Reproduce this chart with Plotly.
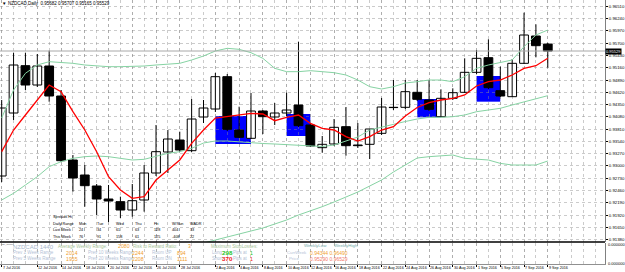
import plotly.graph_objects as go

# ---------------- data ----------------
open_p = [0.92779, 0.94165, 0.95206, 0.94781, 0.95199, 0.94539, 0.93131, 0.92801, 0.92559, 0.92273,
          0.92214, 0.92031, 0.92251, 0.92845, 0.93307, 0.93571, 0.93336, 0.94077, 0.94253, 0.94964,
          0.93791, 0.93608, 0.94209, 0.94077, 0.94165, 0.94341, 0.93901, 0.93402, 0.93483, 0.93864,
          0.93461, 0.93476, 0.93718, 0.94290, 0.94290, 0.94620, 0.94451, 0.94084, 0.94488, 0.94620,
          0.95060, 0.95382, 0.94656, 0.94524, 0.95258, 0.95859, 0.95682]
high_p = [0.94451, 0.95492, 0.95492, 0.95463, 0.95536, 0.94671, 0.93241, 0.93021, 0.92603, 0.92581,
          0.92324, 0.92603, 0.93021, 0.93901, 0.93791, 0.93754, 0.94473, 0.94451, 0.95045, 0.95023,
          0.94304, 0.94605, 0.94231, 0.94385, 0.94612, 0.95734, 0.93923, 0.93659, 0.94033, 0.94297,
          0.93945, 0.93813, 0.94495, 0.94891, 0.94891, 0.94891, 0.94891, 0.94686, 0.94708, 0.95368,
          0.95551, 0.95786, 0.95184, 0.95353, 0.96372, 0.96116, 0.95707]
low_p = [0.92647, 0.94011, 0.94671, 0.94737, 0.94413, 0.93087, 0.92434, 0.92104, 0.91921, 0.91767,
         0.91855, 0.91884, 0.91994, 0.92779, 0.92845, 0.93307, 0.93307, 0.93945, 0.94187, 0.93769,
         0.93615, 0.93593, 0.93703, 0.93901, 0.94099, 0.93857, 0.93417, 0.93292, 0.93439, 0.93226,
         0.93395, 0.93153, 0.93681, 0.94231, 0.94253, 0.94429, 0.94209, 0.94077, 0.94451, 0.94605,
         0.95023, 0.94693, 0.94517, 0.94517, 0.95243, 0.95390, 0.95165]
close_p = [0.94275, 0.95221, 0.94781, 0.95199, 0.94539, 0.93116, 0.92735, 0.92566, 0.92273, 0.92229,
           0.92031, 0.92236, 0.92845, 0.93314, 0.93593, 0.93351, 0.94033, 0.94275, 0.94964, 0.93806,
           0.93630, 0.94209, 0.94084, 0.94165, 0.94231, 0.93886, 0.93439, 0.93476, 0.93850, 0.93446,
           0.93446, 0.93813, 0.94297, 0.94284, 0.94634, 0.94466, 0.94246, 0.94488, 0.94612, 0.95060,
           0.95368, 0.94722, 0.94539, 0.95258, 0.95881, 0.95646, 0.95529]

ma_red = [0.93314, 0.93791, 0.94121, 0.94451, 0.94781, 0.94634, 0.94194, 0.93791, 0.93314, 0.92764,
          0.92471, 0.92288, 0.92324, 0.92691, 0.92911, 0.93131, 0.93498, 0.93791, 0.94055, 0.94084,
          0.94121, 0.94158, 0.94143, 0.93996, 0.94070, 0.94121, 0.93938, 0.93828, 0.93791, 0.93644,
          0.93549, 0.93644, 0.93791, 0.93864, 0.94099, 0.94286, 0.94392, 0.94451, 0.94488, 0.94561,
          0.94759, 0.94854, 0.94891, 0.95001, 0.95148, 0.95206, 0.95368]
band_upper = [0.94055, 0.94671, 0.95038, 0.95221, 0.95294, 0.95280, 0.95258, 0.95221, 0.95199, 0.95184,
              0.95184, 0.95184, 0.95199, 0.95221, 0.95236, 0.95258, 0.95331, 0.95419, 0.95529, 0.95588,
              0.95566, 0.95492, 0.95368, 0.95148, 0.95074, 0.95074, 0.95096, 0.95074, 0.95052, 0.95001,
              0.94891, 0.94744, 0.94693, 0.94744, 0.94825, 0.94854, 0.94891, 0.94891, 0.94854, 0.94964,
              0.95148, 0.95221, 0.95272, 0.95331, 0.95624, 0.95881, 0.95991]
band_mid = [0.92251, 0.92398, 0.92581, 0.92764, 0.92984, 0.93094, 0.93168, 0.93204, 0.93219, 0.93204,
            0.93168, 0.93131, 0.93146, 0.93219, 0.93278, 0.93314, 0.93388, 0.93505, 0.93549, 0.93549,
            0.93527, 0.93505, 0.93494, 0.93483, 0.93472, 0.93461, 0.93439, 0.93428, 0.93461, 0.93549,
            0.93637, 0.93791, 0.93857, 0.93923, 0.93978, 0.94033, 0.94070, 0.94070, 0.94084, 0.94121,
            0.94194, 0.94231, 0.94268, 0.94341, 0.94414, 0.94473, 0.94546]
band_lower = [None] * 16 + [
    0.91217, 0.91305, 0.91371, 0.91437, 0.91503, 0.91569, 0.91635, 0.91723, 0.91811, 0.91921,
    0.92009, 0.92104, 0.92207, 0.92317, 0.92427, 0.92559, 0.92691, 0.92867, 0.93021, 0.93175,
    0.93204, 0.93219, 0.93241, 0.93168, 0.93146, 0.93131, 0.93057, 0.93021, 0.93021, 0.93021,
    0.93109]

rect_start = [18, 24, 35, 40]
rect_end = [21, 26, 37, 42]
rect_top = [0.94099, 0.94143, 0.94473, 0.94979]
rect_bottom = [0.93483, 0.93659, 0.94070, 0.94414]

date_tick_bars = [0, 3, 5, 7, 9, 11, 13, 15, 18, 20, 22, 24, 26, 28, 30, 32, 34, 36, 38, 40, 42, 44, 46]
date_tick_labels = ["7 Jul 2016", "12 Jul 2016", "14 Jul 2016", "18 Jul 2016", "20 Jul 2016",
                    "22 Jul 2016", "26 Jul 2016", "28 Jul 2016", "2 Aug 2016", "4 Aug 2016",
                    "8 Aug 2016", "10 Aug 2016", "12 Aug 2016", "16 Aug 2016", "18 Aug 2016",
                    "22 Aug 2016", "24 Aug 2016", "26 Aug 2016", "30 Aug 2016", "1 Sep 2016",
                    "5 Sep 2016", "7 Sep 2016", "9 Sep 2016"]
price_ticks = [0.96510, 0.96240, 0.95970, 0.95700, 0.95430, 0.95160, 0.94890, 0.94620, 0.94350,
               0.94080, 0.93810, 0.93540, 0.93270, 0.93000, 0.92730, 0.92460, 0.92190, 0.91920,
               0.91650, 0.91380]
last_price = 0.95529
header_text = "NZDCAD,Daily  0.95682 0.95707 0.95165 0.95529"

table_cols = ["Daily Range", "Mon", "Tue", "Wed", "Thu", "Fri", "W/Sun", "WADR"]
table_last = ["Last Week", "24", "34", "61", "63", "128", "404", "33"]
table_this = ["This Week", "76", "91", "158", "61", "125", "-408", "22"]

# ---------------- geometry helpers ----------------
W, H = 625, 272
ML, MR, MT, MB = 0, 16, 0, 8
PW, PH = W - ML - MR, H - MT - MB
MAIN_BOTTOM_PX = 242
Y_TOP = 0.96651
Y_BOT = 0.91327
X_LO, X_HI = -0.142, 50.82


def px_x(p):
    return p / PW


def px_y(p):
    return (PH - p) / PH


FONT = "Liberation Sans, Arial, sans-serif"

fig = go.Figure()

# wicks
wx, wy = [], []
for i, (h, l) in enumerate(zip(high_p, low_p)):
    wx += [i, i, None]
    wy += [l, h, None]
fig.add_trace(go.Scatter(x=wx, y=wy, mode="lines", line=dict(color="black", width=1),
                         hoverinfo="skip", xaxis="x", yaxis="y"))

# bodies
idx = list(range(len(open_p)))
base = [min(o, c) for o, c in zip(open_p, close_p)]
hgt = [max(abs(c - o), 0.00003) for o, c in zip(open_p, close_p)]
cols = ["white" if c > o else "black" for o, c in zip(open_p, close_p)]
fig.add_trace(go.Bar(x=idx, y=hgt, base=base, width=0.74,
                     marker=dict(color=cols, line=dict(color="black", width=1)),
                     hoverinfo="skip", xaxis="x", yaxis="y"))

# bands & MA
for arr in (band_upper, band_mid, band_lower):
    fig.add_trace(go.Scatter(x=idx, y=arr, mode="lines", line=dict(color="#86d3a3", width=1),
                             hoverinfo="skip", xaxis="x", yaxis="y", connectgaps=False))
fig.add_trace(go.Scatter(x=idx, y=ma_red, mode="lines", line=dict(color="#ff0000", width=1.3),
                         hoverinfo="skip", xaxis="x", yaxis="y"))

# sub-window dummy trace
fig.add_trace(go.Scatter(x=[0], y=[0.5], mode="markers", marker=dict(opacity=0),
                         hoverinfo="skip", xaxis="x", yaxis="y2"))

shapes = []
for x0, x1, t, b in zip(rect_start, rect_end, rect_top, rect_bottom):
    shapes.append(dict(type="rect", xref="x", yref="y", x0=x0, x1=x1, y0=b, y1=t,
                       fillcolor="#0000ff", line=dict(width=0), layer="below"))
# current price line
shapes.append(dict(type="line", xref="paper", yref="y", x0=0, x1=1, y0=last_price, y1=last_price,
                   line=dict(color="#a8a8a8", width=1)))
# separator between windows
shapes.append(dict(type="line", xref="paper", yref="paper", x0=0, x1=1,
                   y0=px_y(MAIN_BOTTOM_PX), y1=px_y(MAIN_BOTTOM_PX),
                   line=dict(color="black", width=1.5)))

ann = []


def txt(x, y, s, size=4.5, color="black", anchor="left", bold=False, **kw):
    if bold:
        s = "<b>" + s + "</b>"
    ann.append(dict(xref="paper", yref="paper", x=px_x(x), y=px_y(y), text=s, showarrow=False,
                    xanchor=anchor, yanchor="middle", font=dict(family=FONT, size=size, color=color),
                    borderpad=0, **kw))


# header
txt(1, 4, "▼", size=4.5)
txt(7, 4, header_text, size=4.5)

# date labels
for b, lab in zip(date_tick_bars, date_tick_labels):
    xpix = (b - X_LO) * (PW / (X_HI - X_LO))
    ann.append(dict(xref="paper", yref="paper", x=px_x(xpix), y=px_y(267.5), text=lab,
                    showarrow=False, xanchor="left", yanchor="middle", borderpad=0,
                    font=dict(family=FONT, size=3.7, color="black")))

# current price box
ann.append(dict(xref="paper", yref="y", x=1, y=last_price, text="0.95529", showarrow=False,
                xanchor="left", yanchor="middle", bgcolor="black", borderpad=0,
                font=dict(family=FONT, size=4.0, color="white")))
# sub window scale labels
txt(PW + 2, 244.5, "0.000000", size=4.0)
txt(PW + 2, 263, "0.000000", size=4.0)

# table in main chart
col_x = [52, 79, 97, 116, 135, 154, 172, 190]
txt(52, 216.5, "Spreads Hi", size=3.8)
for cx, s in zip(col_x, table_cols):
    txt(cx, 223.5, s, size=3.8)
for cx, s in zip(col_x, table_last):
    txt(cx, 230, s, size=3.8)
for cx, s in zip(col_x, table_this):
    txt(cx, 236.5, s, size=3.8)

# sub window texts
LBL = "#b4c2d6"
GRN = "#a9c59a"
ORG = "#f0a030"
txt(0.5, 244.3, "TDI_Ready", size=2.5, color="#606060")
txt(12, 246.5, "NZDCAD 1440", size=6.0, color="#a8b8cc")
txt(57, 246, "Average Weekly Range:", size=4.6, color=GRN)
txt(118, 246, "2080", size=5.2, color=ORG)
txt(133, 246, "Risk to Reward Ratio:", size=4.6, color=GRN)
txt(188, 246, "3", size=5.2, color=ORG)
txt(211, 246, "Maximum StopLosses:", size=4.6, color=GRN)
txt(305, 245, "WeeklyLow", size=4.4, color="#72a9a9")
txt(335, 245, "WeeklyHigh", size=4.4, color="#72a9a9")

txt(12, 252.7, "Prev 1 Week Range", size=4.5, color=LBL)
txt(65, 252.7, "2014", size=5.2, color=ORG)
txt(88, 252.7, "Prev 10 Weeks Range", size=4.5, color=LBL)
txt(132, 252.7, "2244", size=5.2, color=ORG)
txt(152, 252.7, "Room UP", size=4.5, color=LBL)
txt(177, 252.7, "894", size=5.2, color=ORG)
txt(212, 252.7, "Long", size=4.5, color=LBL)
txt(222, 252.2, "298", size=6.2, color="#22c422", bold=True)
txt(234, 252.7, "Pips at", size=4.5, color=LBL)
txt(251, 252.7, "1", size=5.2, color="#22c422")
txt(288, 252.7, "CurrWeek", size=4.3, color=LBL)
txt(311, 252.7, "0.94344 0.96490", size=5.0, color=ORG)

txt(12, 258.5, "Prev 5 Weeks Range", size=4.5, color=LBL)
txt(65, 258.5, "1955", size=5.2, color=ORG)
txt(88, 258.5, "Prev 20 Weeks Range", size=4.5, color=LBL)
txt(132, 258.5, "2208", size=5.2, color=ORG)
txt(152, 258.5, "Room DN", size=4.5, color=LBL)
txt(177, 258.5, "1111", size=5.2, color=ORG)
txt(212, 258.5, "Short", size=4.5, color=LBL)
txt(222, 258.0, "370", size=6.2, color="#ee2020", bold=True)
txt(234, 258.5, "Pips at", size=4.5, color=LBL)
txt(251, 258.5, "1", size=5.2, color="#ee2020")
txt(290, 258.5, "Price", size=4.3, color=LBL)
txt(311, 258.5, "0.95290 0.96529", size=5.0, color="#f27a6a")

GRID = "rgba(140,140,140,0.45)"
fig.update_layout(
    width=W, height=H, margin=dict(l=ML, r=MR, t=MT, b=MB),
    paper_bgcolor="white", plot_bgcolor="white", showlegend=False,
    barmode="overlay", shapes=shapes, annotations=ann,
    xaxis=dict(domain=[0, 1], anchor="y2", range=[X_LO, X_HI],
               tickvals=date_tick_bars, ticktext=[""] * len(date_tick_bars),
               ticks="outside", ticklen=2, tickcolor="black",
               showgrid=True, gridcolor=GRID, griddash="dot", gridwidth=1,
               minor=dict(dtick=1, tick0=0, showgrid=True, gridcolor=GRID, griddash="dot"),
               zeroline=False, showline=True, linecolor="#909090", linewidth=1),
    yaxis=dict(domain=[px_y(MAIN_BOTTOM_PX), 1], anchor="x", side="right",
               range=[Y_BOT, Y_TOP], tickvals=price_ticks,
               ticktext=["%.5f" % v for v in price_ticks],
               tickfont=dict(family=FONT, size=4.3, color="black"),
               ticks="outside", ticklen=2, tickcolor="black",
               showgrid=True, gridcolor=GRID, griddash="dot", gridwidth=1,
               zeroline=False, showline=True, linecolor="#808080", linewidth=1),
    yaxis2=dict(domain=[0, px_y(MAIN_BOTTOM_PX + 1)], anchor="x", side="right",
                range=[0, 1], showgrid=False, zeroline=False, showticklabels=False,
                showline=True, linecolor="#808080", linewidth=1),
)

fig.write_html("out.html", config={"displayModeBar": False})
